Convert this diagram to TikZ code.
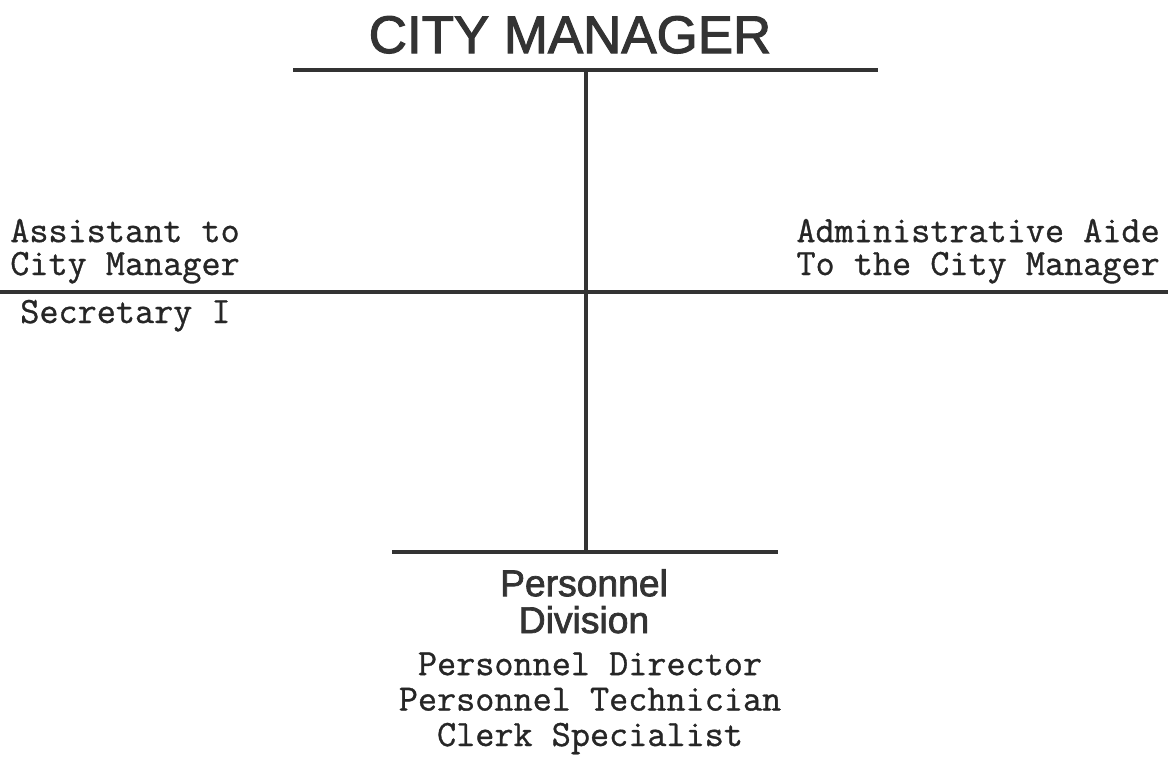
\documentclass[tikz,border=0pt]{standalone}
\usepackage{fontspec}
\setmainfont{Liberation Sans}[FakeBold=2]
\setmonofont{Latin Modern Mono}[FakeBold=0.9]
\tikzset{
	orgline/.style={line width=3.4pt, draw=black!80},
	cmtitle/.style={font=\fontsize{37.6}{40}\selectfont, text=black!80, anchor=base, inner sep=0},
	divtitle/.style={font=\fontsize{26.5}{26.2}\selectfont, text=black!80, align=center, inner sep=0},
	staff/.style={font=\fontsize{26.4}{23.4}\selectfont\ttfamily, text=black!85, inner sep=0},
}

\begin{document}
\begin{tikzpicture}[x=0.025cm, y=-0.025cm]
	\useasboundingbox (0,0) rectangle (1170,757);

	% top of the chart
	\node[cmtitle] (cm) at (570,53) {CITY MANAGER};
	\coordinate (cmL) at (293,70);
	\coordinate (cmR) at (878,70);
	\coordinate (cmC) at (586,70);
	\draw[orgline] (cmL) -- (cmR);

	% staff line
	\coordinate (stL) at (0,292);
	\coordinate (stR) at (1168,292);
	\draw[orgline] (stL) -- (stR);
	\node[staff, align=left, anchor=base west] (asst) at (10,275) {Assistant to\\City Manager};
	\node[staff, anchor=base west] (sec) at (20,323) {Secretary I};
	\node[staff, align=left, anchor=base east] (aide) at (1160,275) {Administrative Aide\\To the City Manager};

	% personnel division
	\coordinate (pdC) at (586,552);
	\coordinate (pdL) at (392,552);
	\coordinate (pdR) at (778,552);
	\draw[orgline] (pdL) -- (pdR);
	\draw[line width=3pt, draw=black!80] (cmC) -- (pdC);
	\node[divtitle, anchor=base] (pdiv) at (584,633) {Personnel\\Division};
	\node[staff, align=center, anchor=base, font=\fontsize{26.4}{25.2}\selectfont\ttfamily] (pstaff) at (590,746)
		{Personnel Director\\Personnel Technician\\Clerk Specialist};
\end{tikzpicture}
\end{document}
